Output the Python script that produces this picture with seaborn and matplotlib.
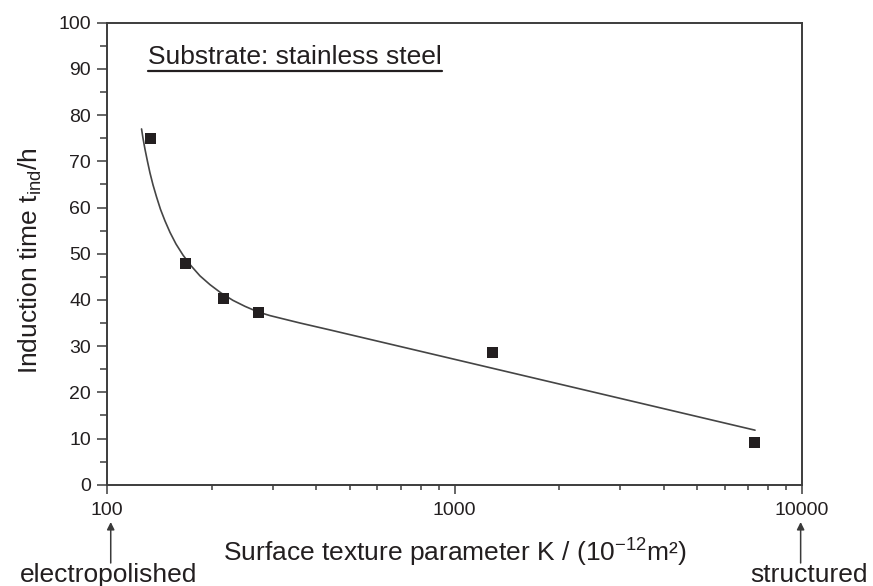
import matplotlib
matplotlib.use("Agg")
import matplotlib.pyplot as plt
from matplotlib.lines import Line2D
from matplotlib.ticker import FixedLocator, FixedFormatter, LogLocator, NullFormatter, MultipleLocator
import seaborn as sns
import pandas as pd

# Measured induction times for each surface texture
k_values = [133, 168, 216, 272, 1288, 7290]          # K / 1e-12 m^2
t_values = [75.0, 47.8, 40.3, 37.2, 28.7, 9.2]       # t_ind / h

# Trend curve through the measurements
curve_k = [125.5, 126.7, 128.4, 130.6, 132.7, 135.4, 138.6, 142.3, 146.6,
           151.6, 157.7, 165.2, 174.2, 184.9, 197.6, 212.6, 230.1, 249.3,
           271.6, 294.2, 324.9, 358.9, 437.9, 7338]
curve_t = [77.0, 75.0, 72.6, 69.9, 67.5, 64.9, 62.3, 59.6, 57.1,
           54.6, 52.1, 49.7, 47.4, 45.2, 43.3, 41.5, 39.9, 38.6,
           37.4, 36.6, 35.8, 35.0, 33.5, 11.8]

xtick_values = [100, 1000, 10000]
xtick_labels = ["100", "1000", "10000"]
ytick_values = [0, 10, 20, 30, 40, 50, 60, 70, 80, 90, 100]

sns.set_theme(style="white")
plt.rcParams["font.family"] = ["Liberation Sans", "DejaVu Sans"]
plt.rcParams["mathtext.fontset"] = "custom"
plt.rcParams["mathtext.rm"] = "Liberation Sans"
plt.rcParams["mathtext.it"] = "Liberation Sans:italic"
plt.rcParams["mathtext.bf"] = "Liberation Sans:bold"

W, H = 873, 586
fig = plt.figure(figsize=(W / 100, H / 100), dpi=100)
x0, x1, y_top, y_bot = 107.3, 801.7, 22.7, 484.7
ax = fig.add_axes([x0 / W, (H - y_bot) / H, (x1 - x0) / W, (y_bot - y_top) / H])

text_color = "#231f20"
axis_color = "#3c3c3c"
label_size = 19

points = pd.DataFrame({"K": k_values, "t": t_values})
curve = pd.DataFrame({"K": curve_k, "t": curve_t})

sns.lineplot(data=curve, x="K", y="t", sort=False, estimator=None,
             color="#454545", linewidth=1.2, ax=ax)
sns.scatterplot(data=points, x="K", y="t", marker="s", s=62, color=text_color,
                edgecolor="none", linewidth=0, ax=ax, zorder=3)

ax.set_xscale("log")
ax.set_xlim(100, 10000)
ax.set_ylim(0, 100)

ax.xaxis.set_major_locator(FixedLocator(xtick_values))
ax.xaxis.set_major_formatter(FixedFormatter(xtick_labels))
ax.xaxis.set_minor_locator(LogLocator(base=10, subs=range(2, 10)))
ax.xaxis.set_minor_formatter(NullFormatter())
ax.yaxis.set_major_locator(FixedLocator(ytick_values))
ax.yaxis.set_minor_locator(MultipleLocator(5))

for sp in ax.spines.values():
    sp.set_visible(True)
    sp.set_color(axis_color)
    sp.set_linewidth(1.4)

ax.tick_params(axis="both", which="both", direction="out", colors=axis_color,
               labelcolor=text_color, top=False, right=False, width=1.1)
ax.tick_params(axis="x", which="major", length=6.8, pad=6.0, labelsize=14, bottom=True)
ax.tick_params(axis="x", which="minor", length=3.6, bottom=True)
ax.tick_params(axis="y", which="major", length=7.2, pad=4.5, labelsize=14, left=True)
ax.tick_params(axis="y", which="minor", length=4.8, left=True)

ax.set_xlabel("Surface texture parameter K / (10$^{\\mathregular{-12}}$m²)",
              fontsize=label_size, color=text_color, va="center", ha="center")
ax.xaxis.set_label_coords(0.5, (y_bot - 553) / (y_bot - y_top))
ax.set_ylabel("Induction time t$_{\\mathregular{ind}}$/h",
              fontsize=label_size, color=text_color, va="center", ha="center")
ax.yaxis.set_label_coords((30 - x0) / (x1 - x0), 0.485)

# Underlined substrate caption
caption = ax.text((148 - x0) / (x1 - x0), (y_bot - 57.5) / (y_bot - y_top),
                  "Substrate: stainless steel", transform=ax.transAxes,
                  fontsize=label_size, color=text_color, ha="left", va="center")
fig.canvas.draw()
bb = caption.get_window_extent()
uy = (H - 71) / H
fig.add_artist(Line2D([bb.x0 / W, bb.x1 / W], [uy, uy], transform=fig.transFigure,
                      color=text_color, linewidth=1.6))

# Arrows marking the two surface extremes
xform = ax.get_xaxis_transform()
tip_y = (y_bot - 522) / (y_bot - y_top)
tail_y = (y_bot - 563) / (y_bot - y_top)
for xk in (102.3, 9930):
    ax.annotate("", xy=(xk, tip_y), xytext=(xk, tail_y), xycoords=xform,
                textcoords=xform, annotation_clip=False,
                arrowprops=dict(arrowstyle="-|>", color="#3a3a3a", lw=1.1,
                                mutation_scale=11, shrinkA=0, shrinkB=0))

fig.text(109 / W, (H - 582) / H, "electropolished", fontsize=label_size,
         color=text_color, ha="center", va="baseline")
fig.text(809 / W, (H - 582) / H, "structured", fontsize=label_size,
         color=text_color, ha="center", va="baseline")

fig.savefig("out.png", dpi=100)
